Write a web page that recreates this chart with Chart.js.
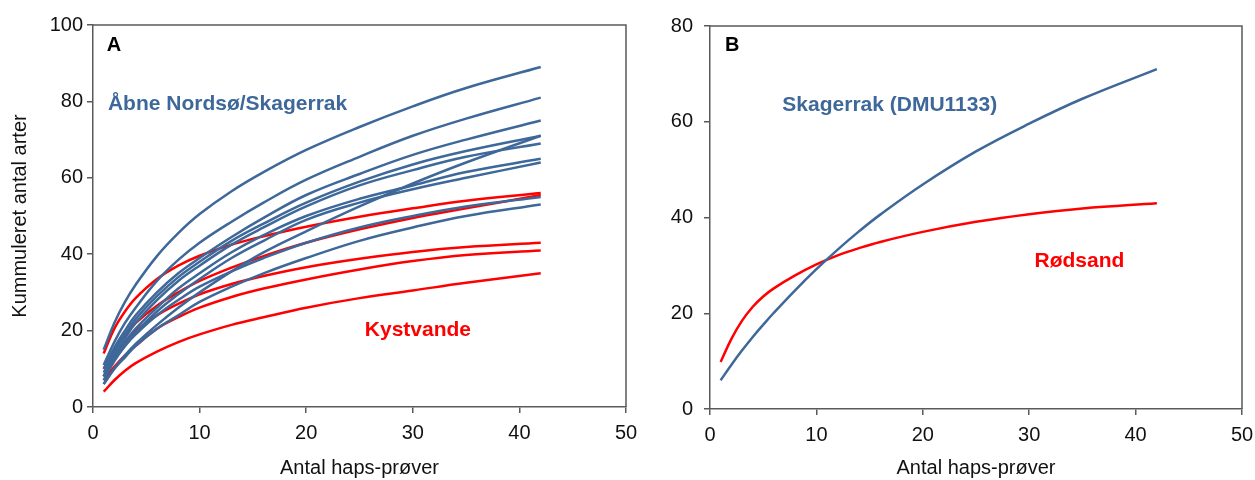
<!DOCTYPE html>
<html>
<head>
<meta charset="utf-8">
<script src="https://cdn.jsdelivr.net/npm/chart.js@4/dist/chart.umd.min.js"></script>
<style>
  body { margin: 0; background: #fff; }
  #wrap { position: relative; width: 1255px; height: 480px; }
  #chartA { position: absolute; left: 0; top: 0; }
  #chartB { position: absolute; left: 627px; top: 0; }
</style>
</head>
<body>
<div id="wrap">
  <canvas id="chartA" width="640" height="480"></canvas>
  <canvas id="chartB" width="628" height="480"></canvas>
</div>
<script>
// antal haps-prøver (x) for the accumulation curves
var sampleX = [1, 2, 3, 4, 6, 8, 10, 13, 16, 20, 25, 30, 35, 42];

// A: open North Sea / Skagerrak stations
var open1 = [15, 22, 27.5, 32, 39.5, 45.5, 50.5, 56.5, 61.5, 67.3, 73.3, 78.7, 83.5, 89];
var open2 = [11, 17, 22, 26, 33, 38.5, 43, 48.5, 53.5, 59.5, 65.5, 71, 75.5, 81];
var open3 = [10, 15.5, 20, 24, 30, 35, 39, 44.5, 49.5, 55.5, 61, 66, 70, 75];
var open4 = [9, 14.5, 19, 23, 29, 34, 38, 43.5, 48, 53.5, 59, 63.5, 67, 71];
var open5 = [6, 10, 13.5, 16.5, 21.5, 26, 30, 35.5, 40.5, 46, 52.5, 58.5, 64, 71];
var open6 = [8, 13.5, 18, 22, 28, 33, 37, 42.5, 47, 52.5, 58, 62, 65.5, 69];
var open7 = [8, 13, 17, 20.5, 26, 31, 35, 40.5, 45, 50, 54.5, 58, 61.5, 65];
var open8 = [7, 12, 16, 19.5, 25, 29.5, 33.5, 39, 43.5, 49, 53.5, 57, 60, 64];
var open9 = [8, 12.5, 16, 19, 24, 28, 31.5, 35.5, 39, 43, 47, 50, 52.5, 55];
var open10 = [6, 10, 13, 16, 20.5, 24, 27.5, 31.5, 35, 39, 43.5, 47, 50, 53];

// A: coastal stations
var coast1 = [14, 20.5, 25, 28.5, 33.5, 37, 39.6, 42.5, 44.7, 47.2, 49.8, 52, 54, 56];
var coast2 = [10, 15, 19, 22, 26.5, 30, 33, 36.5, 39.5, 43, 46.5, 49.5, 52, 55.5];
var coast3 = [8, 13, 17, 20, 24, 27, 29.5, 32.2, 34.3, 36.6, 38.8, 40.6, 41.9, 43];
var coast4 = [7, 10.5, 13.5, 16, 20.5, 23.5, 26, 28.8, 31, 33.4, 36, 38.2, 39.8, 41];
var coast5 = [4, 7, 9.5, 11.5, 14.5, 17, 19, 21.5, 23.5, 26, 28.5, 30.5, 32.5, 35];

// B: single stations
var sampleXB = [1, 2, 3, 4, 5, 6, 8, 10, 12, 14, 16, 20, 25, 30, 35, 42];
var skagerrakDMU = [6, 9.2, 12.2, 15, 17.6, 20.1, 24.8, 29.2, 33.3, 37.1, 40.6, 46.9, 53.8, 59.6, 64.8, 71];
var roedsand = [9.8, 14.6, 18.4, 21.3, 23.5, 25.2, 27.9, 30.2, 32.1, 33.6, 34.9, 37, 39.1, 40.7, 41.9, 43];

var xTicks = [0, 10, 20, 30, 40, 50];
var yTicksA = [0, 20, 40, 60, 80, 100];
var yTicksB = [0, 20, 40, 60, 80];

var BLUE = '#3d6899';
var RED = '#ff0000';
var AXIS = '#5a5a5a';

Chart.defaults.font.family = "'Liberation Sans', Arial, sans-serif";
Chart.defaults.font.size = 20;
Chart.defaults.color = '#111';

function toPoints(xs, ys) {
    return xs.map(function(x, i) { return {x: x, y: ys[i]}; });
}

function curve(xs, ys, color) {
    return {
        data: toPoints(xs, ys),
        borderColor: color,
        borderWidth: 2.5,
        pointRadius: 0,
        fill: false,
        tension: 0.4
    };
}

// frame round the plot area and the text labels inside it
var framePlugin = {
    id: 'frameAndLabels',
    afterDraw: function(chart, args, opts) {
        var ctx = chart.ctx, a = chart.chartArea;
        var sx = chart.scales.x, sy = chart.scales.y;
        ctx.save();
        ctx.strokeStyle = AXIS;
        ctx.lineWidth = 1.5;
        ctx.beginPath();
        ctx.moveTo(a.left, a.top);
        ctx.lineTo(a.right, a.top);
        ctx.lineTo(a.right, a.bottom);
        ctx.stroke();
        ctx.textAlign = 'left';
        ctx.textBaseline = 'middle';
        (opts.labels || []).forEach(function(l) {
            ctx.fillStyle = l.color;
            ctx.font = 'bold ' + l.size + "px 'Liberation Sans', Arial, sans-serif";
            ctx.fillText(l.text, sx.getPixelForValue(l.x), sy.getPixelForValue(l.y));
        });
        ctx.restore();
    }
};

function axes(yMax, yTicks, yWidth, yPad, yTitle) {
    return {
        x: {
            type: 'linear', min: 0, max: 50,
            afterBuildTicks: function(s) { s.ticks = xTicks.map(function(v) { return {value: v}; }); },
            afterFit: function(s) {
                s.height = yTitle ? 73 : 71;
                s.paddingLeft = 0;
                s.paddingRight = 0;
            },
            grid: { drawOnChartArea: false, tickLength: 6, color: AXIS, lineWidth: 1.5 },
            border: { color: AXIS, width: 1.5 },
            ticks: { padding: 8, color: '#111' },
            title: { display: true, text: 'Antal haps-prøver', color: '#111', padding: {top: 0, bottom: 0} }
        },
        y: {
            type: 'linear', min: 0, max: yMax,
            afterBuildTicks: function(s) { s.ticks = yTicks.map(function(v) { return {value: v}; }); },
            afterFit: function(s) {
                s.width = yWidth;
                s.paddingTop = 0;
                s.paddingBottom = 0;
            },
            grid: { drawOnChartArea: false, tickLength: 6, color: AXIS, lineWidth: 1.5 },
            border: { color: AXIS, width: 1.5 },
            ticks: { padding: yPad, color: '#111' },
            title: { display: !!yTitle, text: yTitle || '', color: '#111', padding: {top: 8, bottom: 0} }
        }
    };
}

var openSea = [open1, open2, open3, open4, open5, open6, open7, open8, open9, open10];
var coastal = [coast1, coast2, coast3, coast4, coast5];

new Chart(document.getElementById('chartA'), {
    type: 'line',
    data: {
        datasets: openSea.map(function(s) { return curve(sampleX, s, BLUE); })
            .concat(coastal.map(function(s) { return curve(sampleX, s, RED); }))
    },
    options: {
        responsive: false,
        animation: false,
        layout: { padding: { top: 25, right: 14, left: 0, bottom: 0 } },
        plugins: {
            legend: { display: false },
            tooltip: { enabled: false },
            frameAndLabels: {
                labels: [
                    { text: 'A', x: 1.3, y: 94.6, color: '#000', size: 20 },
                    { text: 'Åbne Nordsø/Skagerrak', x: 1.4, y: 79.3, color: BLUE, size: 21 },
                    { text: 'Kystvande', x: 25.5, y: 20.2, color: RED, size: 21 }
                ]
            }
        },
        scales: axes(100, yTicksA, 93, 4, 'Kummuleret antal arter')
    },
    plugins: [framePlugin]
});

new Chart(document.getElementById('chartB'), {
    type: 'line',
    data: {
        datasets: [curve(sampleXB, skagerrakDMU, BLUE), curve(sampleXB, roedsand, RED)]
    },
    options: {
        responsive: false,
        animation: false,
        layout: { padding: { top: 26, right: 13, left: 0, bottom: 0 } },
        plugins: {
            legend: { display: false },
            tooltip: { enabled: false },
            frameAndLabels: {
                labels: [
                    { text: 'B', x: 1.4, y: 76, color: '#000', size: 20 },
                    { text: 'Skagerrak (DMU1133)', x: 6.8, y: 63.5, color: BLUE, size: 21 },
                    { text: 'Rødsand', x: 30.5, y: 30.9, color: RED, size: 21 }
                ]
            }
        },
        scales: axes(80, yTicksB, 83, 11, null)
    },
    plugins: [framePlugin]
});
</script>
</body>
</html>
